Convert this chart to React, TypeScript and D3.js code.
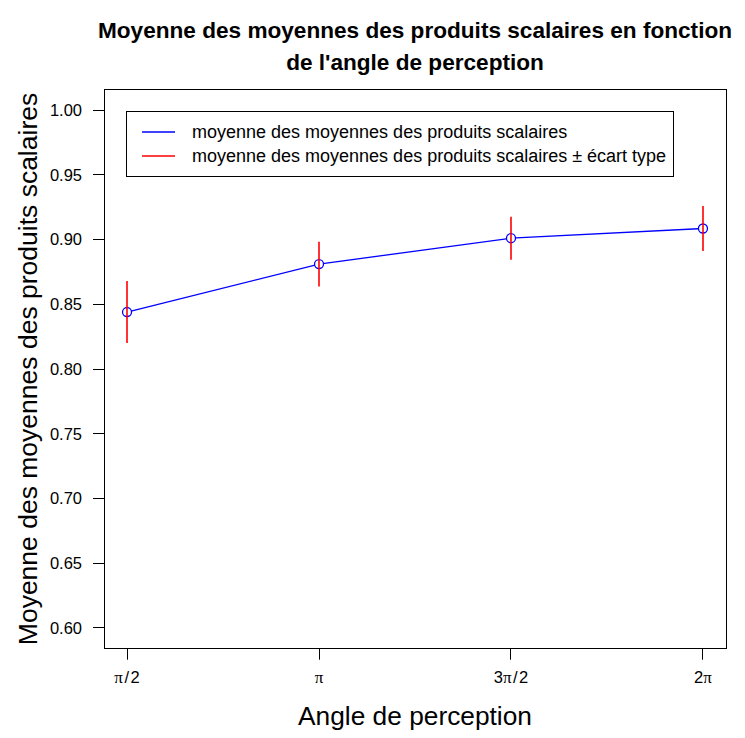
import React from "react";
import * as d3 from "d3";

const angles = [Math.PI / 2, Math.PI, (3 * Math.PI) / 2, 2 * Math.PI];
const angleLabels = [
  { pre: "", post: "/2" },
  { pre: "", post: "" },
  { pre: "3", post: "/2" },
  { pre: "2", post: "" },
];
const means = [0.844, 0.881, 0.901, 0.9085];
const sds = [0.024, 0.0172, 0.0166, 0.0174];
const yTicks = [0.6, 0.65, 0.7, 0.75, 0.8, 0.85, 0.9, 0.95, 1.0];
const titleLines = [
  "Moyenne des moyennes des produits scalaires en fonction",
  "de l'angle de perception",
];
const xTitle = "Angle de perception";
const yTitle = "Moyenne des moyennes des produits scalaires";
const legendItems = [
  { label: "moyenne des moyennes des produits scalaires", color: "#0000FF" },
  { label: "moyenne des moyennes des produits scalaires \u00B1 \u00E9cart type", color: "#FF0000" },
];

const W = 745;
const H = 738;
const left = 104;
const right = 726;
const top = 89.3;
const bottom = 648.7;
const SANS = "'Liberation Sans', Arial, Helvetica, sans-serif";
const SERIF = "'Liberation Serif', 'Times New Roman', serif";

const px = (v: number) => Math.round(v - 0.5) + 0.5;

export default function App() {
  const xr = angles[angles.length - 1] - angles[0];
  const x = d3
    .scaleLinear()
    .domain([angles[0] - 0.04 * xr, angles[angles.length - 1] + 0.04 * xr])
    .range([left, right]);
  const y = d3.scaleLinear().domain([0.584, 1.016]).range([bottom, top]);
  const pts = angles.map((a, i) => [x(a), y(means[i])] as [number, number]);
  const line = d3.line();
  const cx = (left + right) / 2;
  const cy = (top + bottom) / 2;
  const tick = 11;

  return (
    <svg
      width={W}
      height={H}
      style={{ position: "absolute", left: 0, top: 0, background: "#fff" }}
      fontFamily={SANS}
    >
      <rect x={0} y={0} width={W} height={H} fill="#fff" />
      {titleLines.map((t, i) => (
        <text
          key={"title" + i}
          x={cx}
          y={38 + i * 32}
          textAnchor="middle"
          fontWeight="bold"
          fontSize={22.6}
          fill="#000"
        >
          {t}
        </text>
      ))}
      <rect
        x={px(left)}
        y={px(top)}
        width={px(right) - px(left)}
        height={px(bottom) - px(top)}
        fill="none"
        stroke="#000"
        strokeWidth={1}
      />
      {yTicks.map((t) => (
        <g key={"yt" + t}>
          <line x1={left - tick} x2={left} y1={px(y(t))} y2={px(y(t))} stroke="#000" strokeWidth={1} />
          <text x={82} y={y(t)} dy="0.36em" textAnchor="end" fontSize={16.5} fill="#000">
            {t.toFixed(2)}
          </text>
        </g>
      ))}
      {angles.map((a, i) => (
        <g key={"xt" + i}>
          <line x1={px(x(a))} x2={px(x(a))} y1={bottom} y2={bottom + tick} stroke="#000" strokeWidth={1} />
          <text x={x(a)} y={683} textAnchor="middle" fontSize={16.5} fill="#000">
            {angleLabels[i].pre}
            <tspan fontFamily={SERIF} fontSize={17}>{"\u03C0"}</tspan>
            {angleLabels[i].post ? <tspan dx={1.5}>{"/"}</tspan> : null}
            {angleLabels[i].post ? <tspan dx={1.5}>{angleLabels[i].post.slice(1)}</tspan> : null}
          </text>
        </g>
      ))}
      <text x={cx} y={725} textAnchor="middle" fontSize={26.3} fill="#000">
        {xTitle}
      </text>
      <text transform={`translate(37,${cy}) rotate(-90)`} textAnchor="middle" fontSize={26.5} fill="#000">
        {yTitle}
      </text>
      <path d={line(pts) || ""} fill="none" stroke="#0000FF" strokeWidth={1.3} />
      {pts.map((p, i) => (
        <circle key={"pt" + i} cx={p[0]} cy={p[1]} r={4.5} fill="#fff" stroke="#0000FF" strokeWidth={1.3} />
      ))}
      {angles.map((a, i) => (
        <line
          key={"err" + i}
          x1={Math.round(x(a))}
          x2={Math.round(x(a))}
          y1={y(means[i] - sds[i])}
          y2={y(means[i] + sds[i])}
          stroke="#FF0000"
          strokeWidth={1.6}
        />
      ))}
      <rect x={126.5} y={111.5} width={547} height={65} fill="#fff" stroke="#000" strokeWidth={1} />
      {legendItems.map((it, i) => (
        <g key={"lg" + i}>
          <line
            x1={142}
            x2={175}
            y1={132 + i * 24}
            y2={132 + i * 24}
            stroke={it.color}
            strokeWidth={1.6}
          />
          <text x={192} y={131.5 + i * 24} dy="0.36em" fontSize={18} fill="#000">
            {it.label}
          </text>
        </g>
      ))}
    </svg>
  );
}
